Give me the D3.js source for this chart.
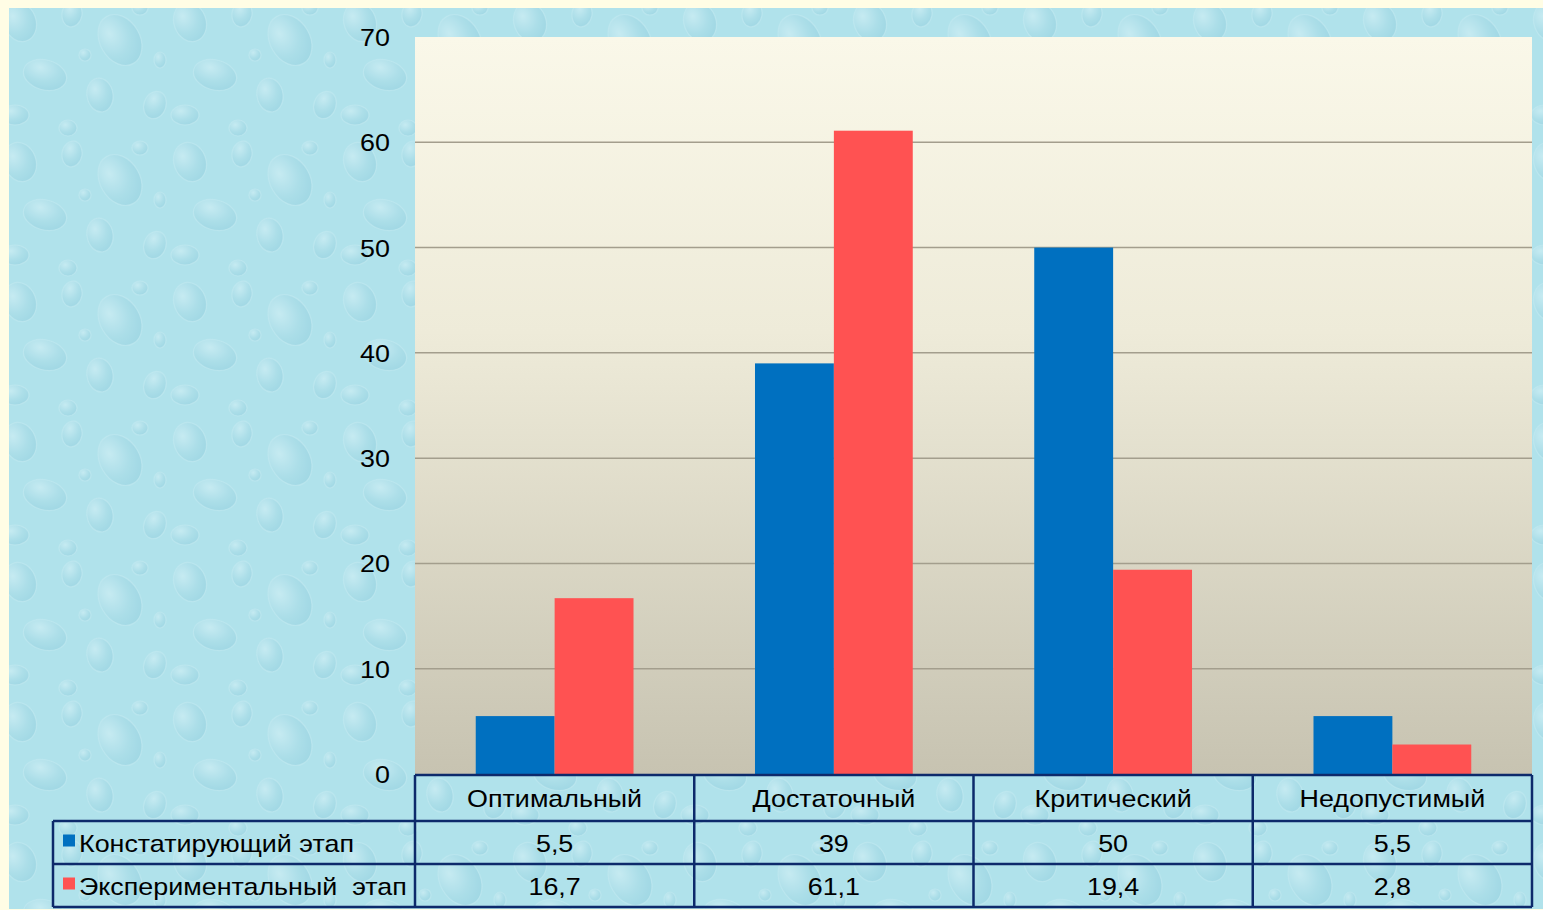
<!DOCTYPE html>
<html>
<head>
<meta charset="utf-8">
<script src="https://cdn.jsdelivr.net/npm/d3@7"></script>
<style>
  body { margin: 0; background: #fffde5; }
  svg { display: block; font-family: "Liberation Sans", Arial, sans-serif; }
</style>
</head>
<body>
<script>
// data
var categories = ["Оптимальный", "Достаточный", "Критический", "Недопустимый"];
var seriesNames = ["Констатирующий этап", "Экспериментальный  этап"];
var stage1 = [5.5, 39, 50, 5.5];
var stage2 = [16.7, 61.1, 19.4, 2.8];
var stage1Labels = ["5,5", "39", "50", "5,5"];
var stage2Labels = ["16,7", "61,1", "19,4", "2,8"];
var yTicks = [0, 10, 20, 30, 40, 50, 60, 70];
var colors = ["#0070c0", "#ff5252"];

var W = 1543, H = 910;
var plot = {left: 415, right: 1532, top: 37, bottom: 774};
var FS = 24, SX = 1.12; // text is a bit wider than the font

var svg = d3.select("body").append("svg")
  .attr("width", W).attr("height", H);

var defs = svg.append("defs");

// water drop texture (decorative tile)
var drop = defs.append("radialGradient").attr("id", "drop")
  .attr("cx", "35%").attr("cy", "30%").attr("r", "75%");
drop.append("stop").attr("offset", "0%").attr("stop-color", "#dff5f9");
drop.append("stop").attr("offset", "60%").attr("stop-color", "#a5d9e5");
drop.append("stop").attr("offset", "100%").attr("stop-color", "#8ccbdb");

var pat = defs.append("pattern").attr("id", "water")
  .attr("patternUnits", "userSpaceOnUse")
  .attr("width", 170).attr("height", 140);
pat.append("rect").attr("width", 170).attr("height", 140).attr("fill", "#b0e2eb");
var blobs = [[20, 22, 16, 20, -20], [72, 14, 10, 13, 10], [120, 40, 20, 27, -30], [45, 75, 22, 15, 15],
             [100, 95, 13, 17, -10], [155, 105, 11, 14, 20], [15, 115, 14, 10, 0], [68, 128, 9, 8, 0],
             [140, 8, 8, 7, 0], [160, 60, 6, 8, 0], [85, 55, 6, 6, 0]];
pat.selectAll("ellipse").data(blobs).enter().append("ellipse")
  .attr("transform", function(d) { return "translate(" + d[0] + "," + d[1] + ") rotate(" + d[4] + ")"; })
  .attr("rx", function(d) { return d[2]; })
  .attr("ry", function(d) { return d[3]; })
  .attr("fill", "url(#drop)")
  .attr("opacity", 0.45)
  .attr("stroke", "#d4f0f5").attr("stroke-width", 1.2).attr("stroke-opacity", 0.7);

svg.append("rect").attr("x", 9).attr("y", 8)
  .attr("width", W - 9).attr("height", 901)
  .attr("fill", "url(#water)");

// plot background gradient
var pg = defs.append("linearGradient").attr("id", "plotbg")
  .attr("x1", 0).attr("y1", 0).attr("x2", 0).attr("y2", 1);
pg.append("stop").attr("offset", "0%").attr("stop-color", "#faf8e9");
pg.append("stop").attr("offset", "40%").attr("stop-color", "#eeebd9");
pg.append("stop").attr("offset", "100%").attr("stop-color", "#c7c3b1");

svg.append("rect")
  .attr("x", plot.left).attr("y", plot.top)
  .attr("width", plot.right - plot.left).attr("height", plot.bottom - plot.top)
  .attr("fill", "url(#plotbg)");

var x = d3.scaleBand().domain(categories).range([plot.left, plot.right]);
var xs = d3.scaleBand().domain([0, 1]).range([0, x.bandwidth()]).paddingOuter(0.77);
var y = d3.scaleLinear().domain([0, 70]).range([plot.bottom, plot.top]);

function label(g, tx, ty, s, anchor) {
  return g.append("text")
    .attr("transform", "translate(" + tx + "," + ty + ") scale(" + SX + ",1)")
    .attr("text-anchor", anchor || "middle")
    .attr("font-size", FS).attr("fill", "#000")
    .style("white-space", "pre")
    .text(s);
}

// gridlines
svg.append("g").selectAll("line").data(yTicks.filter(function(t) { return t > 0 && t < 70; }))
  .enter().append("line")
  .attr("x1", plot.left).attr("x2", plot.right)
  .attr("y1", function(d) { return y(d); }).attr("y2", function(d) { return y(d); })
  .attr("stroke", "#a39e8d").attr("stroke-width", 1.5);

// y axis labels
var ya = svg.append("g");
yTicks.forEach(function(t) { label(ya, 390, y(t) + 9, String(t), "end"); });

// bars
var series = [stage1, stage2];
series.forEach(function(vals, si) {
  svg.append("g").selectAll("rect").data(vals).enter().append("rect")
    .attr("x", function(d, i) { return x(categories[i]) + xs(si); })
    .attr("width", xs.bandwidth())
    .attr("y", function(d) { return y(d); })
    .attr("height", function(d) { return y(0) - y(d); })
    .attr("fill", colors[si]);
});

// data table
var rows = [plot.bottom + 1, 821, 864, 907];
var tableLeft = 53;
var line = "#0d2a6b";
var t = svg.append("g");

categories.forEach(function(c) { label(t, x(c) + x.bandwidth() / 2, 807, c); });

var labelRows = [stage1Labels, stage2Labels];
labelRows.forEach(function(labels, si) {
  var cy = (rows[si + 1] + rows[si + 2]) / 2;
  labels.forEach(function(s, i) { label(t, x(categories[i]) + x.bandwidth() / 2, cy + 9, s); });
  t.append("rect")
    .attr("x", 63).attr("y", cy - 8).attr("width", 12).attr("height", 12)
    .attr("fill", colors[si]);
  label(t, 79, cy + 9, seriesNames[si], "start");
});

// table lines
t.append("line").attr("x1", plot.left).attr("x2", plot.right).attr("y1", rows[0]).attr("y2", rows[0])
  .attr("stroke", line).attr("stroke-width", 2.5);
[rows[1], rows[2], rows[3]].forEach(function(ry) {
  t.append("line").attr("x1", tableLeft).attr("x2", plot.right).attr("y1", ry).attr("y2", ry)
    .attr("stroke", line).attr("stroke-width", 2.5);
});
t.append("line").attr("x1", tableLeft).attr("x2", tableLeft).attr("y1", rows[1]).attr("y2", rows[3])
  .attr("stroke", line).attr("stroke-width", 2.5);
var colX = categories.map(function(c) { return x(c); }).concat([plot.right]);
colX.forEach(function(cx) {
  t.append("line").attr("x1", cx).attr("x2", cx).attr("y1", rows[0]).attr("y2", rows[3])
    .attr("stroke", line).attr("stroke-width", 2.5);
});
</script>
</body>
</html>
